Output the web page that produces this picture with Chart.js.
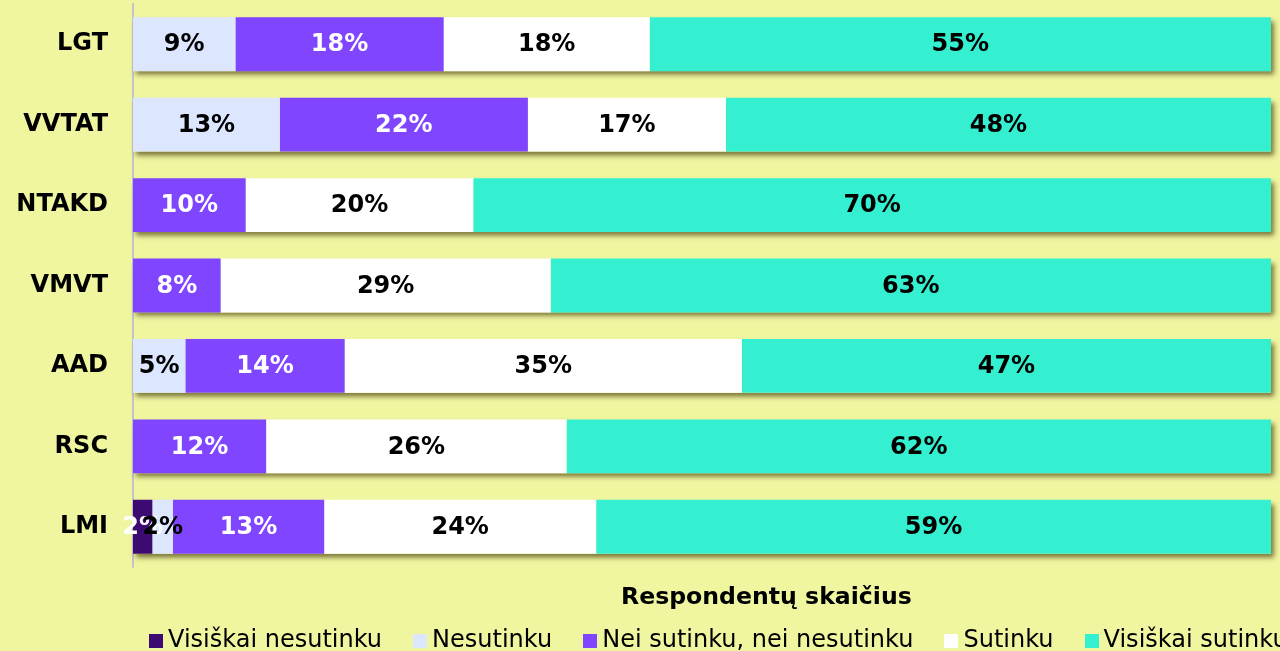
<!DOCTYPE html>
<html>
<head>
<meta charset="utf-8">
<script src="https://cdn.jsdelivr.net/npm/chart.js@4"></script>
<style>
  html, body { margin: 0; padding: 0; background: #f0f5a0; overflow: hidden; }
  #wrap { position: relative; width: 1280px; height: 651px; }
  #axisTitle {
    position: absolute; left: 621px; top: 582px;
    font: bold 23.6px "DejaVu Sans", sans-serif; color: #000; white-space: nowrap;
  }
  #legend {
    position: absolute; left: 149px; top: 625px; white-space: nowrap;
    font: 24px "DejaVu Sans", sans-serif; color: #000; display: flex;
  }
  #legend span.item { display: inline-flex; align-items: center; margin-right: 31px; }
  #legend span.box { width: 14px; height: 14px; display: inline-block; margin-right: 5px; margin-top: 3px; }
</style>
</head>
<body>
<div id="wrap">
  <canvas id="chart"></canvas>
  <div id="axisTitle">Respondentų skaičius</div>
  <div id="legend"></div>
</div>
<script>
const categories = ['LGT', 'VVTAT', 'NTAKD', 'VMVT', 'AAD', 'RSC', 'LMI'];
const seriesNames = ['Visiškai nesutinku', 'Nesutinku', 'Nei sutinku, nei nesutinku', 'Sutinku', 'Visiškai sutinku'];
const seriesColors = ['#3c0a70', '#dce6ff', '#8045ff', '#ffffff', '#34f0d0'];
const labelColors = ['#ffffff', '#000000', '#ffffff', '#000000', '#000000'];

// shares in %, labels show them rounded
const visiskaiNesutinku = [0, 0, 0, 0, 0, 0, 1.7];
const nesutinku = [9, 12.9, 0, 0, 4.6, 0, 1.8];
const neiSutinku = [18.3, 21.8, 9.9, 7.7, 14, 11.7, 13.3];
const sutinku = [18.1, 17.4, 20, 29, 34.9, 26.4, 23.9];
const visiskaiSutinku = [54.6, 47.9, 70.1, 63.3, 46.5, 61.9, 59.3];
const seriesValues = [visiskaiNesutinku, nesutinku, neiSutinku, sutinku, visiskaiSutinku];

// shadow behind each whole bar
const barShadow = {
  id: 'barShadow',
  beforeDatasetsDraw(chart) {
    const ctx = chart.ctx;
    const x = chart.scales.x;
    const meta = chart.getDatasetMeta(0);
    ctx.save();
    ctx.shadowColor = 'rgba(60, 50, 0, 0.65)';
    ctx.shadowBlur = 5;
    ctx.shadowOffsetX = 3;
    ctx.shadowOffsetY = 4;
    ctx.fillStyle = '#f0f5a0';
    categories.forEach((c, i) => {
      const total = seriesValues.reduce((s, arr) => s + arr[i], 0);
      const bar = meta.data[i];
      const left = x.getPixelForValue(0);
      const right = Math.min(x.getPixelForValue(total), chart.chartArea.right);
      ctx.fillRect(left, bar.y - bar.height / 2, right - left, bar.height);
    });
    ctx.restore();
  }
};

// percentage labels inside segments
const segmentLabels = {
  id: 'segmentLabels',
  afterDatasetsDraw(chart) {
    const ctx = chart.ctx;
    ctx.save();
    ctx.font = 'bold 24px "DejaVu Sans", sans-serif';
    ctx.textAlign = 'center';
    ctx.textBaseline = 'middle';
    chart.data.datasets.forEach((ds, di) => {
      const meta = chart.getDatasetMeta(di);
      meta.data.forEach((bar, i) => {
        const v = ds.data[i];
        if (!v) return;
        const cx = (bar.x + bar.base) / 2;
        ctx.fillStyle = labelColors[di];
        ctx.fillText(Math.round(v) + '%', cx, bar.y + 1);
      });
    });
    ctx.restore();
  }
};

const ctx = document.getElementById('chart').getContext('2d');
new Chart(ctx, {
  type: 'bar',
  data: {
    labels: categories,
    datasets: seriesNames.map((name, i) => ({
      label: name,
      data: seriesValues[i],
      backgroundColor: seriesColors[i],
      borderWidth: 0,
      barPercentage: 0.67,
      categoryPercentage: 1
    }))
  },
  options: {
    indexAxis: 'y',
    responsive: true,
    maintainAspectRatio: false,
    animation: false,
    layout: { padding: { top: 4, right: 9, bottom: 84, left: 0 } },
    plugins: {
      legend: { display: false },
      tooltip: { enabled: false }
    },
    scales: {
      x: {
        stacked: true,
        min: 0,
        max: 100,
        display: false
      },
      y: {
        stacked: true,
        afterFit(scale) {
          scale.width = 133;
          scale.paddingTop = 0;
          scale.paddingBottom = 0;
        },
        grid: { display: false, drawTicks: false },
        border: { display: true, color: '#c4c4c4', width: 2 },
        ticks: {
          padding: 25,
          color: '#000',
          font: { family: 'DejaVu Sans', size: 24, weight: 'bold' }
        }
      }
    }
  },
  plugins: [barShadow, segmentLabels]
});

const legendEl = document.getElementById('legend');
seriesNames.forEach((name, i) => {
  const item = document.createElement('span');
  item.className = 'item';
  const box = document.createElement('span');
  box.className = 'box';
  box.style.background = seriesColors[i];
  item.appendChild(box);
  item.appendChild(document.createTextNode(name));
  legendEl.appendChild(item);
});
</script>
</body>
</html>
